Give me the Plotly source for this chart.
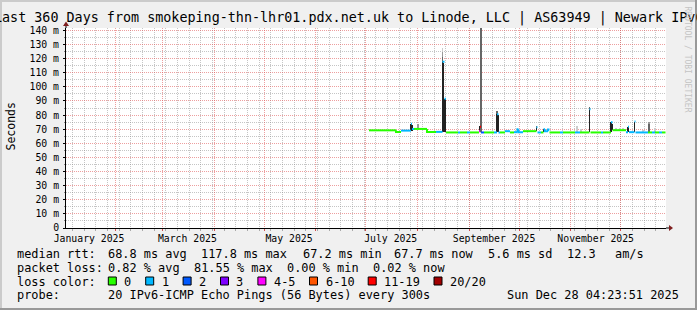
import numpy as np
import pandas as pd
import plotly.graph_objects as go

# ---------------- data ----------------
TITLE = "Last 360 Days from smokeping-thn-lhr01.pdx.net.uk to Linode, LLC | AS63949 | Newark IPv6"
T_START = "2025-01-02 04:23:51"
T_END = "2025-12-28 04:23:51"
DATA_END = "2025-12-27 21:11"
Y_MAX = 141.7

Y_TICKS = [0, 10, 20, 30, 40, 50, 60, 70, 80, 90, 100, 110, 120, 130, 140]
Y_TICK_LABELS = ["0", "10 m", "20 m", "30 m", "40 m", "50 m", "60 m", "70 m",
                 "80 m", "90 m", "100 m", "110 m", "120 m", "130 m", "140 m"]
MONTH_LABELS = ["January 2025", "March 2025", "May 2025", "July 2025",
                "September 2025", "November 2025"]
MONTH_LABEL_AT = ["2025-01-16", "2025-03-16", "2025-05-16", "2025-07-16",
                  "2025-09-16", "2025-11-16"]

# median rtt (ms) per segment start, with loss class index
median_time = [
    "2025-07-02 23:35", "2025-07-19 04:23", "2025-07-22 04:23", "2025-07-28 04:23",
    "2025-07-28 18:47", "2025-07-29 23:35", "2025-08-06 18:47", "2025-08-12 04:23",
    "2025-08-16 02:00", "2025-08-17 06:47", "2025-08-18 04:23", "2025-08-25 09:11",
    "2025-08-26 14:00", "2025-08-30 18:47", "2025-09-01 14:00", "2025-09-06 23:35",
    "2025-09-07 14:00", "2025-09-08 04:23", "2025-09-09 23:35", "2025-09-15 23:35",
    "2025-09-17 18:47", "2025-09-18 16:23", "2025-09-19 14:00", "2025-09-22 14:00",
    "2025-09-25 14:00", "2025-09-27 23:35", "2025-09-30 02:00", "2025-09-30 16:23",
    "2025-10-03 09:11", "2025-10-11 11:35", "2025-10-12 02:00", "2025-10-14 04:23",
    "2025-10-15 16:23", "2025-10-16 14:00", "2025-10-18 09:11", "2025-10-19 06:47",
    "2025-10-25 14:00", "2025-10-27 09:11", "2025-11-03 14:00", "2025-11-06 14:00",
    "2025-11-12 06:47", "2025-11-12 21:11", "2025-11-19 04:23", "2025-11-20 09:11",
    "2025-11-25 04:23", "2025-11-26 02:00", "2025-12-04 04:23", "2025-12-05 09:11",
    "2025-12-05 23:35", "2025-12-09 06:47", "2025-12-09 21:11", "2025-12-17 09:11",
    "2025-12-19 18:47", "2025-12-21 14:00", "2025-12-23 23:35", "2025-12-25 18:47",
]
median_rtt = [
    69.2, 68.1, 69.0, 73.8,
    70.2, 70.2, 68.1, 68.1,
    117.8, 91.5, 67.7, 67.7,
    67.7, 67.7, 67.7, 68.6,
    71.8, 67.7, 67.7, 67.7,
    80.6, 67.7, 67.7, 68.6,
    67.7, 67.9, 70.0, 67.9,
    68.6, 71.4, 67.7, 67.7,
    70.0, 68.6, 69.7, 67.7,
    67.7, 67.7, 67.7, 67.7,
    84.2, 67.7, 67.7, 67.7,
    75.0, 69.3, 67.9, 71.8,
    67.9, 75.4, 67.7, 67.7,
    67.7, 67.7, 67.7, 67.7,
]
median_loss = [
    0, 0, 1, 1,
    1, 0, 0, 1,
    1, 1, 0, 1,
    0, 1, 0, 4,
    6, 2, 0, 1,
    1, 1, 0, 1,
    0, 1, 1, 1,
    0, 1, 1, 0,
    1, 1, 1, 0,
    1, 0, 1, 0,
    1, 0, 1, 0,
    1, 0, 1, 1,
    1, 1, 1, 0,
    1, 0, 1, 0,
]

# smoke (ping spread) pieces: time, low, high, shade index
smoke_time = [
    "2025-07-28 04:23", "2025-07-28 13:00", "2025-08-01 09:11",
    "2025-08-16 02:00", "2025-08-16 16:23", "2025-08-16 02:00", "2025-08-16 02:00", "2025-08-16 02:00",
    "2025-08-17 14:00", "2025-09-07 14:00", "2025-09-08 04:23",
    "2025-09-17 18:47", "2025-09-17 18:47", "2025-09-18 16:23",
    "2025-09-30 02:00", "2025-10-11 11:35", "2025-10-11 11:35",
    "2025-10-15 16:23", "2025-10-16 14:00", "2025-11-04 14:28", "2025-11-07 04:23",
    "2025-11-12 06:47", "2025-11-12 06:47", "2025-11-25 04:23", "2025-11-25 18:47",
    "2025-11-28 10:00", "2025-11-30 20:00", "2025-12-02 06:00",
    "2025-12-05 09:11", "2025-12-09 06:47", "2025-12-14 13:30",
    "2025-12-17 19:16", "2025-12-17 19:16", "2025-12-21 14:00",
]
smoke_lo = [
    69.0, 69.0, 70.2,
    68.1, 68.1, 117.8, 121.0, 124.5,
    67.7, 67.7, 67.7,
    67.7, 80.6, 67.7,
    67.9, 68.6, 71.4,
    67.7, 67.7, 67.7, 67.7,
    67.7, 84.2, 67.7, 69.3,
    69.3, 69.3, 69.3,
    67.9, 67.7, 67.7,
    67.7, 73.8, 67.7,
]
smoke_hi = [
    73.8, 73.0, 73.5,
    117.8, 117.0, 121.0, 124.5, 127.4,
    91.5, 72.0, 150.0,
    80.6, 83.0, 80.0,
    70.0, 71.4, 72.3,
    70.0, 69.7, 72.3, 70.0,
    84.2, 85.6, 75.0, 74.0,
    70.7, 70.7, 70.7,
    71.8, 75.4, 69.5,
    73.8, 74.5, 70.5,
]
smoke_shade = [
    0, 0, 2,
    0, 0, 1, 2, 3,
    0, 0, 1,
    0, 1, 0,
    0, 0, 1,
    0, 0, 3, 3,
    0, 1, 0, 0,
    3, 3, 3,
    0, 0, 3,
    1, 2, 3,
]

LOSS_LABELS = ["0", "1", "2", "3", "4-5", "6-10", "11-19", "20/20"]
LOSS_COLORS = ["#26ff00", "#00b8ff", "#0059ff", "#7e00ff", "#ff00ff", "#ff5500", "#ff0000", "#a10000"]

RTT_STATS = ["68.8 ms avg", "117.8 ms max", "67.2 ms min", "67.7 ms now", "5.6 ms sd", "12.3", "am/s"]
LOSS_STATS = ["0.82 % avg", "81.55 % max", "0.00 % min", "0.02 % now"]
PROBE_TEXT = "20 IPv6-ICMP Echo Pings (56 Bytes) every 300s"
STAMP = "Sun Dec 28 04:23:51 2025"
WATERMARK = "RRDTOOL / TOBI OETIKER"

# ---------------- styling / layout ----------------
W, H = 697, 310
PL, PR, PT, PB = 66, 666, 28, 228
FONT = "DejaVu Sans Mono"
SHADES = ["#222222", "#666666", "#9a9a9a", "#cccccc"]
MGRID = "rgba(222,80,80,0.55)"
GRID = "rgba(140,140,140,0.5)"
STEP_MS = 0.6 * 24 * 3600 * 1000  # one pixel of time

RTT_COLS = [107.3, 200, 301.7, 393.3, 486.7, 565.7, 614]
LOSS_COLS = [107.3, 192.7, 286, 372.3]
ROW_BASE = [258.3, 271.7, 285.7, 299.0]


def fx(px):
    return (px - PL) / (PR - PL)


def fy(py):
    return (PB - py) / (PB - PT)


fig = go.Figure()

# smoke
fig.add_trace(go.Bar(
    x=smoke_time,
    y=[h - l for l, h in zip(smoke_lo, smoke_hi)],
    base=smoke_lo,
    width=STEP_MS,
    marker=dict(color=[SHADES[s] for s in smoke_shade], line=dict(width=0)),
    showlegend=False, hoverinfo="skip",
))

# median line coloured by loss
tt = [pd.Timestamp(t).strftime("%Y-%m-%d %H:%M:%S") for t in median_time + [DATA_END]]
for k, col in enumerate(LOSS_COLORS):
    xs, ys = [], []
    for i, v in enumerate(median_rtt):
        if median_loss[i] != k:
            continue
        if i > 0 and median_loss[i - 1] == k and abs(v - median_rtt[i - 1]) < 3:
            xs.append(tt[i]); ys.append(median_rtt[i - 1])
        xs += [tt[i], tt[i + 1], None]
        ys += [v, v, None]
    if xs:
        fig.add_trace(go.Scatter(x=xs, y=ys, mode="lines", line=dict(color=col, width=2),
                                 showlegend=False, hoverinfo="skip", connectgaps=False))

# empty trace to carry the label axis
fig.add_trace(go.Scatter(x=[], y=[], xaxis="x2", yaxis="y", showlegend=False))

month_starts = pd.date_range("2025-02-01", "2025-12-01", freq="MS")
weeks = pd.date_range("2025-01-03", "2025-12-28", freq="W-MON")

fig.update_layout(
    width=W, height=H,
    margin=dict(l=PL, r=W - PR, t=PT, b=H - PB, pad=0),
    paper_bgcolor="#F0F0F0", plot_bgcolor="#FFFFFF",
    showlegend=False, barmode="overlay", bargap=0,
    font=dict(family=FONT, color="#000000"),
    xaxis=dict(
        type="date", range=[T_START, T_END],
        tickmode="array", tickvals=list(month_starts), showticklabels=False,
        ticks="outside", ticklen=2, tickcolor="#d05050", tickwidth=1,
        showgrid=True, gridcolor=MGRID, griddash="1px,1px", gridwidth=1,
        minor=dict(tickmode="array", tickvals=list(weeks), ticks="outside", ticklen=2,
                   tickcolor="#aaaaaa", showgrid=True, gridcolor=GRID, griddash="1px,1px"),
        showline=True, linecolor="#000000", linewidth=1, zeroline=False,
    ),
    xaxis2=dict(
        type="date", range=[T_START, T_END], overlaying="x", anchor="y", side="bottom",
        tickmode="array", tickvals=MONTH_LABEL_AT, ticktext=MONTH_LABELS,
        ticks="", showgrid=False, showline=False, zeroline=False, ticklabelstandoff=3,
        tickfont=dict(family=FONT, size=9.8, color="#000000"),
    ),
    yaxis=dict(
        range=[0, Y_MAX], tickmode="array", tickvals=Y_TICKS, ticktext=Y_TICK_LABELS,
        ticks="outside", ticklen=2, tickcolor="#000000", ticklabelstandoff=2,
        showgrid=True, gridcolor=MGRID, griddash="1px,1px",
        minor=dict(tickmode="array", tickvals=list(np.arange(5, 141, 10)), ticks="outside",
                   ticklen=1, tickcolor="#888888", showgrid=True, gridcolor=GRID, griddash="1px,1px"),
        showline=True, linecolor="#000000", linewidth=1, zeroline=False,
        tickfont=dict(family=FONT, size=9.8, color="#000000"),
    ),
)

shapes = []


def rect(x0, y0, x1, y1, color, line=None):
    shapes.append(dict(type="rect", xref="paper", yref="paper",
                       x0=fx(x0), x1=fx(x1), y0=fy(y0), y1=fy(y1),
                       fillcolor=color, line=line or dict(width=0), layer="above"))


# frame shading
rect(0, 0, W, 2, "#CBCBCB")
rect(0, 0, 2, H, "#CBCBCB")
rect(0, H - 2, W, H, "#999999")
rect(W - 2, 0, W, H, "#999999")

# axis extensions and arrows
shapes.append(dict(type="line", xref="paper", yref="paper", x0=fx(PR), x1=fx(PR + 4),
                   y0=fy(PB), y1=fy(PB), line=dict(color="#000000", width=1)))
shapes.append(dict(type="line", xref="paper", yref="paper", x0=0, x1=0,
                   y0=1, y1=fy(PT - 4), line=dict(color="#000000", width=1)))


def path(pts):
    return "M " + " L ".join(f"{fx(a):.5f},{fy(b):.5f}" for a, b in pts) + " Z"


shapes.append(dict(type="path", xref="paper", yref="paper",
                   path=path([(PR + 3, PB - 3), (PR + 7, PB), (PR + 3, PB + 3)]),
                   fillcolor="#7f1f1f", line=dict(width=0)))
shapes.append(dict(type="path", xref="paper", yref="paper",
                   path=path([(PL - 3, PT - 2), (PL, PT - 6.5), (PL + 3, PT - 2)]),
                   fillcolor="#7f1f1f", line=dict(width=0)))

annotations = []


def text(px, base, s, size=11.9, anchor="left", color="#000000", angle=0, center_y=None):
    cy = center_y if center_y is not None else base - 0.346 * size
    annotations.append(dict(xref="paper", yref="paper", x=fx(px), y=fy(cy), text=s,
                            showarrow=False, xanchor=anchor, yanchor="middle",
                            textangle=angle, borderpad=0,
                            font=dict(family=FONT, size=size, color=color)))


text(348.5, 23, TITLE, size=13.4, anchor="center")
text(10.5, 0, "Seconds", size=11.5, anchor="center", angle=-90, center_y=127)
text(687.5, 0, WATERMARK, size=8, anchor="center", angle=90, color="#c4c4c4", center_y=59)

text(16, ROW_BASE[0], "median rtt:")
for s, x in zip(RTT_STATS, RTT_COLS):
    text(x, ROW_BASE[0], s)
text(16, ROW_BASE[1], "packet loss:")
for s, x in zip(LOSS_STATS, LOSS_COLS):
    text(x, ROW_BASE[1], s)
text(16, ROW_BASE[2], "loss color:")
bx = 108.3
for lab, col in zip(LOSS_LABELS, LOSS_COLORS):
    rect(bx, 277, bx + 8, 285, col, line=dict(color="#000000", width=1))
    text(bx + 15, ROW_BASE[2], lab)
    bx += 15 + 7.1 * len(lab) + 15.3
text(16, ROW_BASE[3], "probe:")
text(107.3, ROW_BASE[3], PROBE_TEXT)
text(680, ROW_BASE[3], STAMP, anchor="right")

fig.update_layout(shapes=shapes, annotations=annotations)
fig.write_html("out.html")
